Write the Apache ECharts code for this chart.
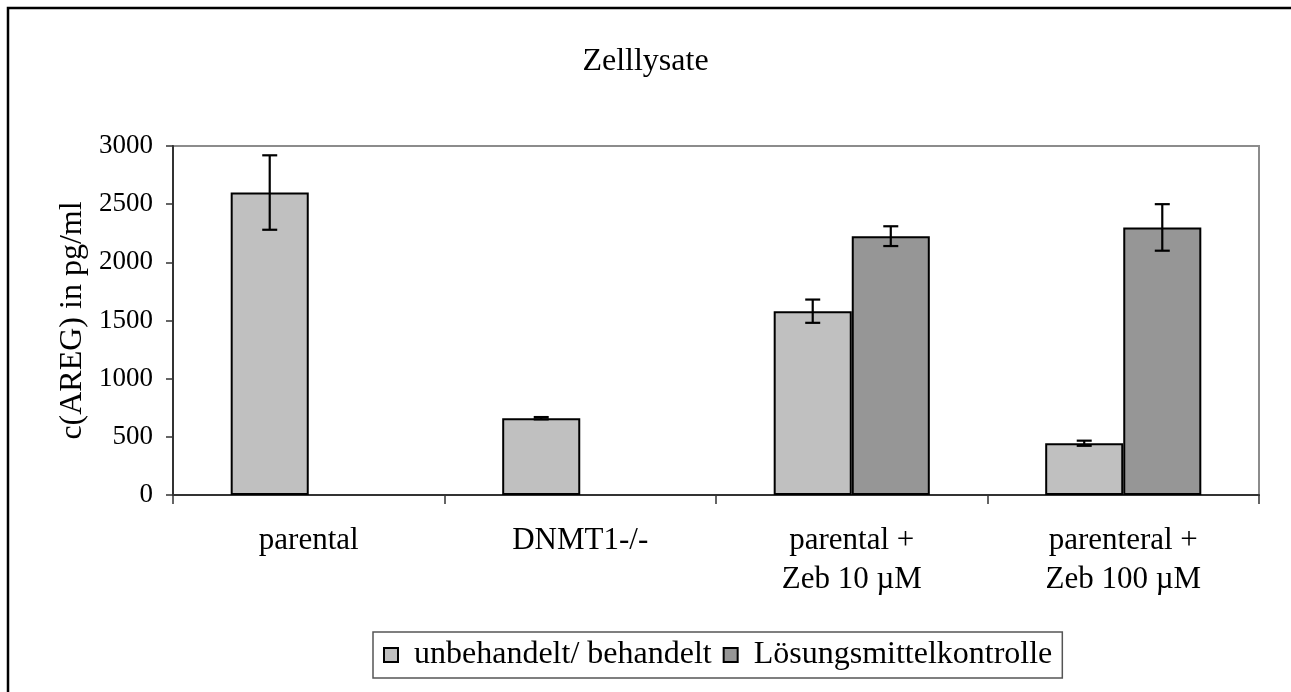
<!DOCTYPE html>
<html>
<head>
<meta charset="utf-8">
<script src="https://cdn.jsdelivr.net/npm/echarts@6/dist/echarts.min.js"></script>
<style>
  html, body { margin: 0; padding: 0; background: #fff; }
  #chart { width: 1291px; height: 692px; }
</style>
</head>
<body>
<div id="chart"></div>
<script>
const categories = ["parental", "DNMT1-/-", "parental +\nZeb 10 µM", "parenteral +\nZeb 100 µM"];
const seriesNames = ["unbehandelt/ behandelt", "Lösungsmittelkontrolle"];
const unbehandelt = [2600, 660, 1580, 445];
const unbehandeltErr = [320, 10, 100, 22];
const kontrolle = ["-", "-", 2225, 2300];
const kontrolleErr = [null, null, 85, 200];
const yTicks = [0, 500, 1000, 1500, 2000, 2500, 3000];

const font = "'Liberation Serif', 'Times New Roman', serif";
const catGap = 0.425;

const errData = (vals, errs) =>
  vals.map((v, i) => (errs[i] == null ? null : [i, v - errs[i], v + errs[i]])).filter(Boolean);

const errorBars = (slot) => (params, api) => {
  const band = api.size([1, 0])[0];
  const barW = band * (1 - catGap) / 2;
  const lo = api.coord([api.value(0), api.value(1)]);
  const hi = api.coord([api.value(0), api.value(2)]);
  const x = lo[0] + (slot === 0 ? -barW / 2 : barW / 2);
  const cap = 7.5;
  const st = { stroke: "#000", lineWidth: 2.2 };
  return {
    type: "group",
    children: [
      { type: "line", shape: { x1: x, y1: lo[1], x2: x, y2: hi[1] }, style: st },
      { type: "line", shape: { x1: x - cap, y1: lo[1], x2: x + cap, y2: lo[1] }, style: st },
      { type: "line", shape: { x1: x - cap, y1: hi[1], x2: x + cap, y2: hi[1] }, style: st }
    ]
  };
};

const chart = echarts.init(document.getElementById("chart"));
chart.setOption({
  animation: false,
  backgroundColor: "#fff",
  textStyle: { fontFamily: font, color: "#000" },
  graphic: [
    {
      type: "rect",
      shape: { x: 8, y: 8, width: 1400, height: 800 },
      style: { fill: "none", stroke: "#000", lineWidth: 2.5 },
      silent: true
    }
  ],
  title: {
    text: "Zelllysate",
    left: "center",
    top: 46,
    padding: 0,
    textStyle: { fontFamily: font, fontSize: 32, fontWeight: "normal", color: "#000" }
  },
  legend: {
    data: seriesNames,
    left: 373,
    top: 632,
    padding: [7, 10, 7, 10],
    itemGap: 11,
    itemWidth: 14,
    itemHeight: 14,
    icon: "rect",
    borderColor: "#555",
    borderWidth: 1.5,
    borderRadius: 0,
    textStyle: { fontFamily: font, fontSize: 32, color: "#000", padding: [0, 0, 0, 11] }
  },
  grid: {
    left: 173,
    right: 32,
    top: 146,
    bottom: 197,
    show: true,
    borderColor: "#8c8c8c",
    borderWidth: 2,
    containLabel: false
  },
  xAxis: {
    type: "category",
    data: categories,
    axisLine: { lineStyle: { color: "#333", width: 2 } },
    axisTick: { show: true, length: 9, lineStyle: { color: "#333", width: 1.5 } },
    axisLabel: {
      fontFamily: font,
      fontSize: 31,
      lineHeight: 39,
      color: "#000",
      margin: 26,
      interval: 0
    },
    splitLine: { show: false }
  },
  yAxis: {
    type: "value",
    min: yTicks[0],
    max: yTicks[yTicks.length - 1],
    interval: 500,
    name: "c(AREG) in pg/ml",
    nameLocation: "middle",
    nameRotate: 90,
    nameGap: 82,
    nameTextStyle: { fontFamily: font, fontSize: 32, color: "#000" },
    axisLine: { show: true, lineStyle: { color: "#333", width: 2 } },
    axisTick: { show: true, inside: false, length: 7, lineStyle: { color: "#333", width: 1.5 } },
    axisLabel: { fontFamily: font, fontSize: 27, color: "#000", margin: 20, formatter: (v) => String(v) },
    splitLine: { show: false }
  },
  series: [
    {
      name: seriesNames[0],
      type: "bar",
      data: unbehandelt,
      barGap: "0%",
      barCategoryGap: catGap * 100 + "%",
      itemStyle: { color: "#c0c0c0", borderColor: "#000", borderWidth: 2 }
    },
    {
      name: seriesNames[1],
      type: "bar",
      data: kontrolle,
      barGap: "0%",
      barCategoryGap: catGap * 100 + "%",
      itemStyle: { color: "#969696", borderColor: "#000", borderWidth: 2 }
    },
    {
      type: "custom",
      renderItem: errorBars(0),
      data: errData(unbehandelt, unbehandeltErr),
      encode: { x: 0, y: [1, 2] },
      z: 10,
      silent: true
    },
    {
      type: "custom",
      renderItem: errorBars(1),
      data: errData(kontrolle, kontrolleErr),
      encode: { x: 0, y: [1, 2] },
      z: 10,
      silent: true
    }
  ]
});
</script>
</body>
</html>
